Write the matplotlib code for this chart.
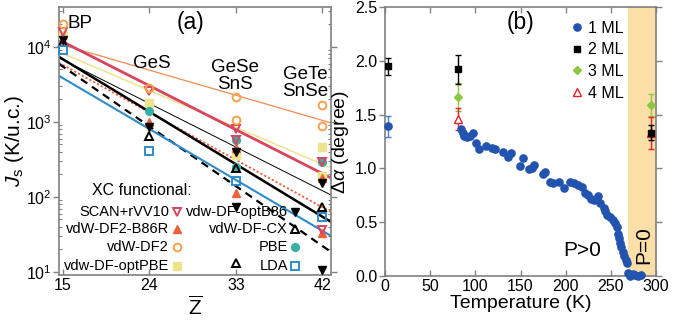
import numpy as np
import matplotlib
matplotlib.use("Agg")
import matplotlib.pyplot as plt

plt.rcParams['font.family'] = ['Liberation Sans', 'DejaVu Sans']
plt.rcParams['mathtext.fontset'] = 'custom'
plt.rcParams['mathtext.rm'] = 'Liberation Sans'
plt.rcParams['mathtext.it'] = 'Liberation Sans:italic'
plt.rcParams['mathtext.bf'] = 'Liberation Sans:bold'

nan = np.nan

# ---------------- panel (a): exchange constants vs mean atomic number ----------------
z_ticks = [15, 24, 33, 42]
z_pts = [15, 24, 33, 33, 42, 42]          # BP, GeS, GeSe, SnS, GeTe, SnSe
scan_rvv10 = [15800, 2600, 810, 580, 292, 36]
vdw_df2_b86r = [12000, 1000, 450, 112, 178, 33]
vdw_df2 = [20400, 2840, 2150, 1070, 1690, 890]
vdw_df_optpbe = [14400, 1780, 360, nan, 465, 190]
vdw_df_optb86 = [12400, 860, 400, 74, 155, 10.7]
vdw_df_cx = [11700, 650, 245, 13, 74, nan]
pbe = [nan, 1400, 580, 250, 292, nan]
lda = [9100, 410, 164, nan, 54, nan]

# exponential fit lines, values at the two ends of the Z range
z_fit = [14.6, 42.9]
fit_df2 = [10960, 970]
fit_scan = [12400, 179]
fit_optpbe = [8580, 244]
fit_thin = [7130, 106]
fit_thick = [7360, 46.4]
fit_b86r = [6120, 63]
fit_dashed = [5930, 18.5]
fit_lda = [4110, 30.2]

# ---------------- panel (b): rotation angle vs temperature ----------------
t_1ml = [84, 86, 88, 91, 94, 97, 101, 104, 112, 119, 122, 131, 136, 139, 149, 153,
         159, 163, 165, 175, 177, 183, 186, 193, 198, 205, 209, 214, 218, 221, 225,
         228, 231, 236, 238, 242, 244, 246, 249, 252, 255, 257, 258, 259, 260, 261,
         263, 265, 267, 268, 269, 271, 274, 277, 280, 283]
a_1ml = [1.37, 1.33, 1.30, 1.29, 1.30, 1.33, 1.24, 1.18, 1.21, 1.19, 1.18, 1.15,
         1.11, 1.14, 1.02, 1.10, 0.99, 1.00, 1.03, 0.95, 0.97, 0.87, 0.86, 0.87,
         0.82, 0.87, 0.86, 0.85, 0.83, 0.77, 0.75, 0.72, 0.71, 0.74, 0.68, 0.63,
         0.60, 0.57, 0.55, 0.52, 0.49, 0.46, 0.39, 0.35, 0.31, 0.27, 0.22, 0.19,
         0.15, 0.12, 0.03, 0.00, 0.02, 0.01, 0.00, 0.01]
t_1ml_err = [3]
a_1ml_err = [1.39]
e_1ml_err = [0.10]
t_2ml = [3, 81, 295]
a_2ml = [1.95, 1.92, 1.33]
e_2ml = [0.08, 0.135, 0.07]
t_3ml = [81, 295]
a_3ml = [1.66, 1.59]
e_3ml = [0.13, 0.10]
t_4ml = [81, 295]
a_4ml = [1.46, 1.33]
e_4ml = [0.105, 0.15]
t_paraelectric = [269, 300]

spine_grey = '#808080'
c_scan = '#D8455E'
c_b86r = '#EE5F3C'
c_df2 = '#F5A24E'
c_df2_line = '#F38A52'
c_optpbe = '#EFE48E'
c_pbe = '#3AAFA6'
c_lda = '#2E8BCB'

fig = plt.figure(figsize=(6.96, 3.27), dpi=100)
ax1 = fig.add_axes([59 / 696, 1 - 275 / 327, 272 / 696, 268 / 327])
ax2 = fig.add_axes([385 / 696, 1 - 276 / 327, 271 / 696, 269 / 327])

# ----- panel (a) -----
ax1.set_yscale('log')
ax1.plot(z_fit, fit_df2, color=c_df2_line, lw=0.9, zorder=2)
ax1.plot(z_fit, fit_optpbe, color=c_optpbe, lw=1.1, zorder=2)
ax1.plot(z_fit, fit_thin, color='black', lw=0.7, zorder=2)
ax1.plot(z_fit, fit_b86r, color=c_b86r, lw=1.3, ls=(0, (1.2, 1.2)), zorder=2)
ax1.plot(z_fit, fit_dashed, color='black', lw=1.6, ls=(0, (3.5, 2.5)), zorder=2)
ax1.plot(z_fit, fit_lda, color=c_lda, lw=1.5, zorder=2)
ax1.plot(z_fit, fit_thick, color='black', lw=1.8, zorder=2)
ax1.plot(z_fit, fit_scan, color=c_scan, lw=2.0, zorder=2)

ms = 5.6
styles = [
    (vdw_df_optpbe, dict(marker='s', color=c_optpbe, mec=c_optpbe, mfc=c_optpbe)),
    (pbe, dict(marker='o', color=c_pbe, mec=c_pbe, mfc=c_pbe)),
    (vdw_df2_b86r, dict(marker='^', color=c_b86r, mec=c_b86r, mfc=c_b86r)),
    (vdw_df_optb86, dict(marker='v', color='black', mec='black', mfc='black')),
    (vdw_df_cx, dict(marker='^', mec='black', mfc='none', mew=1.4)),
    (lda, dict(marker='s', mec=c_lda, mfc='none', mew=1.4)),
    (scan_rvv10, dict(marker='v', mec=c_scan, mfc='none', mew=1.4)),
    (vdw_df2, dict(marker='o', mec=c_df2, mfc='none', mew=1.4)),
]
for vals, st in styles:
    ax1.plot(z_pts, vals, ls='none', ms=ms, zorder=3, clip_on=False, **st)

ax1.set_xlim(14.6, 42.9)
ax1.set_ylim(9.1, 34000)
ax1.set_xticks(z_ticks)
ax1.set_xlabel(r'$\overline{\mathrm{Z}}$', fontsize=15, labelpad=2)
ax1.set_ylabel(r'$J_{\mathrm{s}}$ (K/u.c.)', fontsize=15, labelpad=0)

ax1.text(0.033, 0.94, 'BP', transform=ax1.transAxes, fontsize=13.5, va='center', ha='left')
ax1.text(0.342, 0.79, 'GeS', transform=ax1.transAxes, fontsize=13.5, va='center', ha='center')
ax1.text(0.647, 0.742, 'GeSe\nSnS', transform=ax1.transAxes, fontsize=13.5, va='center',
         ha='center', linespacing=0.95)
ax1.text(0.904, 0.716, 'GeTe\nSnSe', transform=ax1.transAxes, fontsize=13.5, va='center',
         ha='center', linespacing=0.95)
ax1.text(0.485, 0.944, '(a)', transform=ax1.transAxes, fontsize=16.5, va='center', ha='center')

# functional key, two right-aligned columns
ax1.text(0.305, 0.317, 'XC functional:', transform=ax1.transAxes, fontsize=11.5,
         ha='center', va='center')
key_rows = [0.235, 0.17, 0.103, 0.034]
col1 = [('SCAN+rVV10', styles[6][1]), ('vdW-DF2-B86R', styles[2][1]),
        ('vdW-DF2', styles[7][1]), ('vdw-DF-optPBE', styles[0][1])]
col2 = [('vdw-DF-optB86', styles[3][1]), ('vdW-DF-CX', styles[4][1]),
        ('PBE', styles[1][1]), ('LDA', styles[5][1])]
for (label, st), fy in zip(col1, key_rows):
    ax1.text(0.405, fy, label, transform=ax1.transAxes, fontsize=10.5, ha='right', va='center')
    ax1.plot([0.432], [fy], transform=ax1.transAxes, ms=ms, ls='none', clip_on=False,
             zorder=4, **st)
for (label, st), fy in zip(col2, key_rows):
    ax1.text(0.842, fy, label, transform=ax1.transAxes, fontsize=10.5, ha='right', va='center')
    ax1.plot([0.868], [fy], transform=ax1.transAxes, ms=ms, ls='none', clip_on=False,
             zorder=4, **st)

# ----- panel (b) -----
ax2.axvspan(t_paraelectric[0], t_paraelectric[1], color='#FBDFA6', lw=0, zorder=0)
ax2.plot(t_1ml, a_1ml, 'o', color='#2253AE', ms=5.2, ls='none', clip_on=False, zorder=5,
         label='1 ML')
ax2.errorbar(t_1ml_err, a_1ml_err, yerr=e_1ml_err, fmt='o', color='#2253AE', ms=5.2,
             ecolor='#4A7CC8', elinewidth=1, capsize=2.5, clip_on=False, zorder=4)
ax2.errorbar(t_3ml, a_3ml, yerr=e_3ml, fmt='D', color='#8DC63F', ms=4.5,
             elinewidth=1, capsize=2.5, zorder=3)
ax2.errorbar(t_4ml, a_4ml, yerr=e_4ml, fmt='^', mec='#E8202A', mfc='white', ms=6,
             ecolor='#E8202A', mew=1.0, elinewidth=1, capsize=2.5, zorder=3)
ax2.errorbar(t_2ml, a_2ml, yerr=e_2ml, fmt='s', color='black', ms=4,
             elinewidth=1, capsize=2.5, zorder=4)
ax2.plot([], [], 's', color='black', ms=4, label='2 ML')
ax2.plot([], [], 'D', color='#8DC63F', ms=4.5, label='3 ML')
ax2.plot([], [], '^', mec='#E8202A', mfc='white', ms=6, mew=1.0, label='4 ML')
ax2.legend(loc='upper right', bbox_to_anchor=(0.915, 0.985), frameon=False, fontsize=11.5,
           handlelength=0.6, handletextpad=0.35, labelspacing=0.42, borderaxespad=0.2)

ax2.set_xlim(0, 300)
ax2.set_ylim(0, 2.5)
ax2.set_xticks([0, 50, 100, 150, 200, 250, 300])
ax2.set_yticks([0.0, 0.5, 1.0, 1.5, 2.0, 2.5])
ax2.set_yticklabels([f'{v:.1f}' for v in [0.0, 0.5, 1.0, 1.5, 2.0, 2.5]])
ax2.set_xlabel('Temperature (K)', fontsize=14, labelpad=1)
ax2.set_ylabel(r'$\Delta\alpha$ (degree)', fontsize=14, labelpad=3)
ax2.text(218, 0.24, 'P>0', fontsize=15, ha='center', va='center')
ax2.text(286, 0.29, 'P=0', fontsize=15, ha='center', va='center', rotation=90)
ax2.text(150, 2.36, '(b)', fontsize=16.5, ha='center', va='center')

for ax in (ax1, ax2):
    for sp in ax.spines.values():
        sp.set_color(spine_grey)
        sp.set_linewidth(1.2)
    ax.tick_params(which='both', top=True, right=True, direction='in', colors=spine_grey,
                   labelcolor='black', labelsize=11.5)
    ax.tick_params(which='major', length=4, width=1)
    ax.tick_params(which='minor', length=2.5, width=0.8)
    ax.tick_params(axis='y', which='major', left=True, direction='out', pad=1.5)
ax1.tick_params(axis='x', pad=2)
ax2.tick_params(axis='x', pad=2)

fig.savefig('out.png', dpi=100)
